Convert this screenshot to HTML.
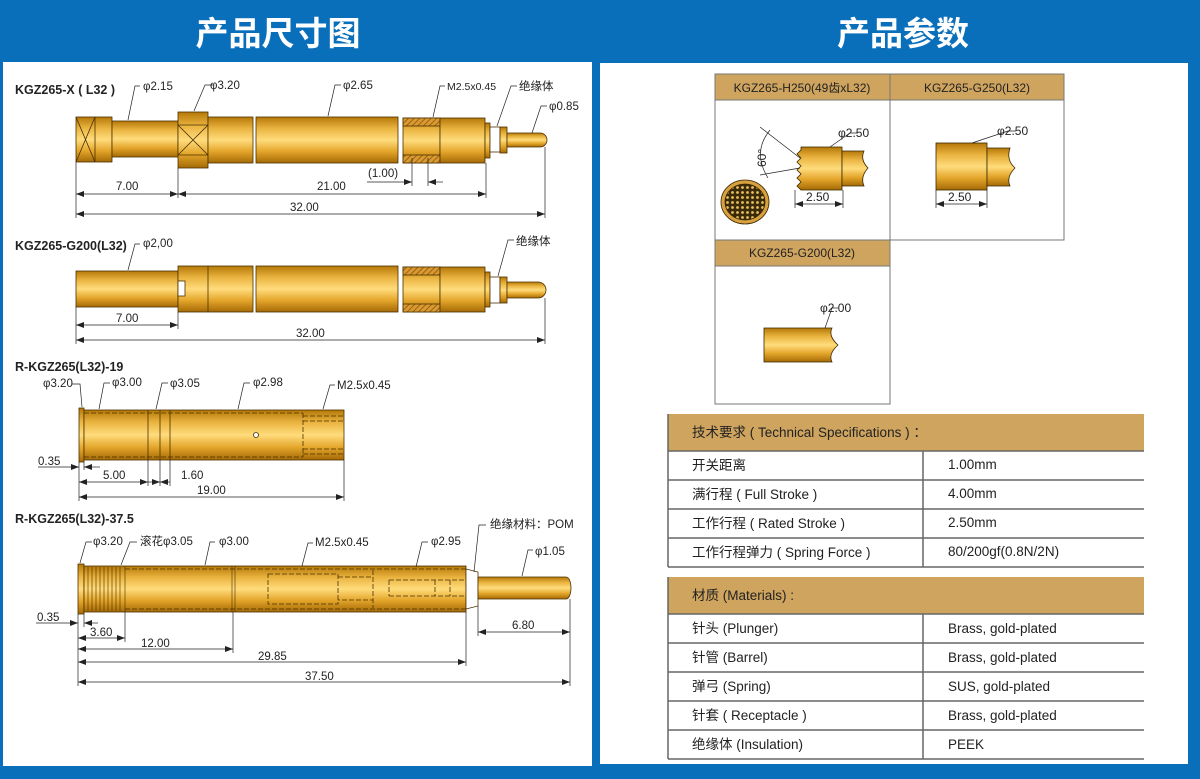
<!DOCTYPE html>
<html><head><meta charset="utf-8"><style>
html,body{margin:0;padding:0;background:#0a6fbb;}
svg{display:block;}
text{font-family:"Liberation Sans","Noto Sans CJK SC",sans-serif;fill:#222;}
</style></head><body>
<svg width="1200" height="779" viewBox="0 0 1200 779" xmlns="http://www.w3.org/2000/svg">
<defs>
<linearGradient id="g" x1="0" y1="0" x2="0" y2="1">
<stop offset="0" stop-color="#b57808"/><stop offset="0.25" stop-color="#eab440"/>
<stop offset="0.5" stop-color="#ffdc7c"/><stop offset="0.75" stop-color="#e3a52a"/>
<stop offset="1" stop-color="#a56a06"/></linearGradient>
<pattern id="h" width="4" height="4" patternUnits="userSpaceOnUse" patternTransform="rotate(45)">
<rect width="4" height="4" fill="#d99a30"/><line x1="0" y1="0" x2="0" y2="4" stroke="#8a4e10" stroke-width="1.5"/></pattern>
<pattern id="dots" width="5" height="5" patternUnits="userSpaceOnUse">
<rect width="5" height="5" fill="#3a2a08"/><circle cx="2.5" cy="2.5" r="1.4" fill="#e8c060"/></pattern>
<marker id="a" markerWidth="8" markerHeight="6" refX="8" refY="3" orient="auto-start-reverse" markerUnits="userSpaceOnUse">
<path d="M0,0 L8,3 L0,6 z" fill="#222"/></marker>
</defs>
<rect width="1200" height="779" fill="#0a6fbb"/>
<rect x="3" y="62" width="589" height="704" fill="#fff"/>
<rect x="600" y="63" width="588" height="701" fill="#fff"/>
<text x="278" y="45" text-anchor="middle" font-size="33" font-weight="bold" style="fill:#fff">产品尺寸图</text>
<text x="903" y="45" text-anchor="middle" font-size="33" font-weight="bold" style="fill:#fff">产品参数</text>

<g stroke="#4a3000" stroke-width="0.8">
<rect x="76" y="117" width="36" height="45" fill="url(#g)"/>
<path d="M76 117 L95 162 M95 117 L76 162 M95 117 V162" fill="none"/>
<rect x="112" y="121" width="66" height="36" fill="url(#g)"/>
<rect x="178" y="112" width="30" height="56" fill="url(#g)"/>
<path d="M178 125 L208 155 M208 125 L178 155 M178 125 H208 M178 155 H208" fill="none"/>
<rect x="208" y="117" width="45" height="46" fill="url(#g)"/>
<rect x="256" y="117" width="142" height="46" fill="url(#g)"/>
<rect x="403" y="118" width="37" height="45" fill="url(#g)"/>
<rect x="403" y="118" width="37" height="8" fill="url(#h)"/>
<rect x="403" y="155" width="37" height="8" fill="url(#h)"/>
<rect x="440" y="118" width="45" height="45" fill="url(#g)"/>
<rect x="485" y="123" width="5" height="35" fill="url(#g)"/>
<rect x="490" y="127" width="10" height="25" fill="#fff"/>
<rect x="500" y="127" width="7" height="26" fill="url(#g)"/>
<path d="M507 133 H540 A7 7 0 0 1 540 147 H507 z" fill="url(#g)"/>
<rect x="76" y="271" width="102" height="36" fill="url(#g)"/>
<rect x="178" y="266" width="75" height="46" fill="url(#g)"/>
<rect x="178" y="281" width="7" height="15" fill="#fff"/>
<line x1="208" y1="266" x2="208" y2="312"/>
<rect x="256" y="266" width="142" height="46" fill="url(#g)"/>
<rect x="403" y="267" width="37" height="45" fill="url(#g)"/>
<rect x="403" y="267" width="37" height="8" fill="url(#h)"/>
<rect x="403" y="304" width="37" height="8" fill="url(#h)"/>
<rect x="440" y="267" width="45" height="45" fill="url(#g)"/>
<rect x="485" y="272" width="5" height="35" fill="url(#g)"/>
<rect x="490" y="277" width="10" height="26" fill="#fff"/>
<rect x="500" y="277" width="7" height="26" fill="url(#g)"/>
<path d="M507 282 H538 A8 8 0 0 1 538 298 H507 z" fill="url(#g)"/>
<rect x="79" y="408" width="5" height="54" fill="url(#g)"/>
<rect x="84" y="410" width="260" height="50" fill="url(#g)"/>
<path d="M148 410 V460 M160 410 V460 M170 410 V460" fill="none"/>
<path d="M84 413 H303 M84 457 H303 M303 413 V457 M303 416 H344 M303 421 H344 M303 449 H344 M303 454 H344" fill="none" stroke-dasharray="5 2"/>
<circle cx="256" cy="435" r="2.5" fill="#fff"/>
<rect x="78" y="564" width="6" height="50" fill="url(#g)"/>
<rect x="84" y="566" width="382" height="46" fill="url(#g)"/>
<path d="M88 567 V611 M92 567 V611 M96 567 V611 M100 567 V611 M104 567 V611 M108 567 V611 M112 567 V611 M116 567 V611 M120 567 V611 M125 566 V612 M232 566 V612 M235 566 V612" fill="none" stroke-width="0.6"/>
<path d="M125 569 H466 M125 609 H466 M268 574 H338 V604 H268 z M338 577 H373 V600 H338 M373 570 V608 M389 580 H466 M389 596 H466 M389 580 V596 M435 580 V596 M450 580 V596" fill="none" stroke-dasharray="5 2"/>
<path d="M466 569 L478 572 L478 606 L466 609 z" fill="#fff"/>
<path d="M478 577 H566 A5 11 0 0 1 566 599 H478 z" fill="url(#g)"/>
</g>

<g stroke="#222" stroke-width="0.7" fill="none">
<path d="M76 162 V218 M178 168 V198 M486 163 V198 M545 147 V218 M412 158 V186 M428 158 V186"/>
<line x1="76" y1="194" x2="178" y2="194" marker-start="url(#a)" marker-end="url(#a)"/>
<line x1="178" y1="194" x2="486" y2="194" marker-start="url(#a)" marker-end="url(#a)"/>
<line x1="76" y1="214" x2="545" y2="214" marker-start="url(#a)" marker-end="url(#a)"/>
<line x1="367" y1="182" x2="412" y2="182" marker-end="url(#a)"/><line x1="443" y1="182" x2="428" y2="182" marker-end="url(#a)"/>
<path d="M76 307 V344 M178 312 V329 M545 298 V344"/>
<line x1="76" y1="325" x2="178" y2="325" marker-start="url(#a)" marker-end="url(#a)"/>
<line x1="76" y1="340" x2="545" y2="340" marker-start="url(#a)" marker-end="url(#a)"/>
<path d="M79 462 V501 M84 462 V470 M148 460 V486 M160 460 V486 M170 460 V486 M344 460 V501"/>
<line x1="38" y1="467" x2="79" y2="467" marker-end="url(#a)"/><line x1="100" y1="467" x2="84" y2="467" marker-end="url(#a)"/>
<line x1="79" y1="482" x2="148" y2="482" marker-start="url(#a)" marker-end="url(#a)"/>
<line x1="148" y1="482" x2="160" y2="482" marker-end="url(#a)"/><line x1="170" y1="482" x2="160" y2="482" marker-end="url(#a)"/>
<line x1="79" y1="497" x2="344" y2="497" marker-start="url(#a)" marker-end="url(#a)"/>
<path d="M78 614 V686 M84 614 V627 M125 612 V642 M233 612 V653 M466 612 V666 M478 606 V636 M570 599 V686"/>
<line x1="36" y1="623" x2="78" y2="623" marker-end="url(#a)"/><line x1="98" y1="623" x2="84" y2="623" marker-end="url(#a)"/>
<line x1="78" y1="638" x2="125" y2="638" marker-start="url(#a)" marker-end="url(#a)"/>
<line x1="78" y1="649" x2="233" y2="649" marker-start="url(#a)" marker-end="url(#a)"/>
<line x1="78" y1="662" x2="466" y2="662" marker-start="url(#a)" marker-end="url(#a)"/>
<line x1="78" y1="682" x2="570" y2="682" marker-start="url(#a)" marker-end="url(#a)"/>
<line x1="478" y1="632" x2="570" y2="632" marker-start="url(#a)" marker-end="url(#a)"/>
<path d="M140 86 H135 L128 120 M214 85 H205 L194 111 M341 85 H335 L328 116 M445 86 H440 L433 117 M517 86 H511 L497 126 M547 106 H541 L532 133"/>
<path d="M140 244 H135 L128 270 M514 240 H508 L498 276"/>
<path d="M72 384 H80 L82 407 M110 383 H104 L99 409 M168 383 H162 L156 409 M250 383 H244 L238 409 M335 385 H330 L323 409"/>
<path d="M92 542 H86 L80 563 M137 542 H130 L121 565 M215 542 H210 L205 565 M313 543 H308 L302 566 M428 542 H422 L416 567 M486 525 H479 L474 572 M533 550 H528 L522 576"/>
</g>

<g font-size="11.5">
<text x="15" y="94" font-weight="bold" font-size="12.5">KGZ265-X ( L32 )</text>
<text x="143" y="90">φ2.15</text><text x="210" y="89">φ3.20</text><text x="343" y="89">φ2.65</text>
<text x="447" y="90" font-size="10.5">M2.5x0.45</text><text x="519" y="90">绝缘体</text><text x="549" y="110">φ0.85</text>
<text x="116" y="190">7.00</text><text x="317" y="190">21.00</text><text x="290" y="211">32.00</text><text x="368" y="177">(1.00)</text>
<text x="15" y="250" font-weight="bold" font-size="12.5">KGZ265-G200(L32)</text>
<text x="143" y="247">φ2,00</text><text x="516" y="245">绝缘体</text>
<text x="116" y="322">7.00</text><text x="296" y="337">32.00</text>
<text x="15" y="371" font-weight="bold" font-size="12.5">R-KGZ265(L32)-19</text>
<text x="43" y="387">φ3.20</text><text x="112" y="386">φ3.00</text><text x="170" y="387">φ3.05</text><text x="253" y="386">φ2.98</text><text x="337" y="389">M2.5x0.45</text>
<text x="38" y="465">0.35</text><text x="103" y="479">5.00</text><text x="181" y="479">1.60</text><text x="197" y="494">19.00</text>
<text x="15" y="523" font-weight="bold" font-size="12.5">R-KGZ265(L32)-37.5</text>
<text x="93" y="545">φ3.20</text><text x="140" y="545">滚花φ3.05</text><text x="219" y="545">φ3.00</text>
<text x="315" y="546">M2.5x0.45</text><text x="431" y="545">φ2.95</text><text x="490" y="528">绝缘材料：POM</text><text x="535" y="555">φ1.05</text>
<text x="37" y="621">0.35</text><text x="90" y="636">3.60</text><text x="141" y="647">12.00</text><text x="258" y="660">29.85</text><text x="305" y="680">37.50</text><text x="512" y="629">6.80</text>
</g>

<g stroke="#777" stroke-width="1">
<rect x="715" y="74" width="175" height="26" fill="#cfa45e"/>
<rect x="890" y="74" width="174" height="26" fill="#cfa45e"/>
<rect x="715" y="100" width="175" height="140" fill="#fff"/>
<rect x="890" y="100" width="174" height="140" fill="#fff"/>
<rect x="715" y="240" width="175" height="26" fill="#cfa45e"/>
<rect x="715" y="266" width="175" height="138" fill="#fff"/>
</g>
<g font-size="12" text-anchor="middle">
<text x="802" y="92">KGZ265-H250(49齿xL32)</text>
<text x="977" y="92">KGZ265-G250(L32)</text>
<text x="802" y="257">KGZ265-G200(L32)</text>
</g>
<g stroke="#3a2800" stroke-width="0.8">
<path d="M801 147 H842 V190 H801 L797 186 L801 182 L797 178 L801 174 L797 170 L801 166 L797 162 L801 158 L797 154 L801 150 z" fill="url(#g)"/>
<path d="M842 151 H864 Q860 160 868 168 Q860 177 864 186 H842 z" fill="url(#g)"/>
<ellipse cx="745" cy="202" rx="24" ry="22" fill="#d9a040"/>
<ellipse cx="745" cy="202" rx="20" ry="18" fill="url(#dots)"/>
<rect x="936" y="143" width="51" height="47" fill="url(#g)"/>
<path d="M987 148 H1010 Q1006 160 1015 168 Q1006 177 1010 186 H987 z" fill="url(#g)"/>
<path d="M764 328 H832 Q828 336 838 345 Q828 354 832 362 H764 z" fill="url(#g)"/>
</g>
<g stroke="#222" stroke-width="0.7" fill="none">
<path d="M795 190 V208 M843 190 V208 M936 190 V208 M987 190 V208 M858 133 H850 L830 147 M1016 131 H1008 L972 143 M838 308 H832 L825 328 M760 127 L800 158 M760 175 L800 168"/>
<path d="M770 130 Q752 152 768 178"/>
<line x1="795" y1="204" x2="843" y2="204" marker-start="url(#a)" marker-end="url(#a)"/>
<line x1="936" y1="204" x2="987" y2="204" marker-start="url(#a)" marker-end="url(#a)"/>
</g>
<g font-size="12">
<text x="838" y="137">φ2.50</text><text x="997" y="135">φ2.50</text><text x="820" y="312">φ2.00</text>
<text x="806" y="201">2.50</text><text x="948" y="201">2.50</text>
<text transform="translate(766 167) rotate(-90)">60°</text>
</g>

<rect x="668" y="414" width="476" height="37" fill="#cfa45e"/>
<rect x="668" y="577" width="476" height="37" fill="#cfa45e"/>
<g stroke="#666" stroke-width="1.5" fill="none">
<path d="M668 414 V567 M668 577 V759 M923 451 V567 M923 614 V759"/>
<path d="M668 451 H1144 M668 480 H1144 M668 509 H1144 M668 538 H1144 M668 567 H1144"/>
<path d="M668 614 H1144 M668 643 H1144 M668 672 H1144 M668 701 H1144 M668 730 H1144 M668 759 H1144"/>
</g>
<g font-size="13.5">
<text x="692" y="437">技术要求 ( Technical Specifications ) ：</text>
<text x="692" y="470">开关距离</text><text x="948" y="469">1.00mm</text>
<text x="692" y="499">满行程 ( Full Stroke )</text><text x="948" y="498">4.00mm</text>
<text x="692" y="528">工作行程 ( Rated Stroke )</text><text x="948" y="527">2.50mm</text>
<text x="692" y="557">工作行程弹力 ( Spring Force )</text><text x="948" y="556">80/200gf(0.8N/2N)</text>
<text x="692" y="600">材质 (Materials) :</text>
<text x="692" y="633">针头 (Plunger)</text><text x="948" y="633">Brass, gold-plated</text>
<text x="692" y="662">针管 (Barrel)</text><text x="948" y="662">Brass, gold-plated</text>
<text x="692" y="691">弹弓 (Spring)</text><text x="948" y="691">SUS, gold-plated</text>
<text x="692" y="720">针套 ( Receptacle )</text><text x="948" y="720">Brass, gold-plated</text>
<text x="692" y="749">绝缘体 (Insulation)</text><text x="948" y="749">PEEK</text>
</g>
</svg>
</body></html>
